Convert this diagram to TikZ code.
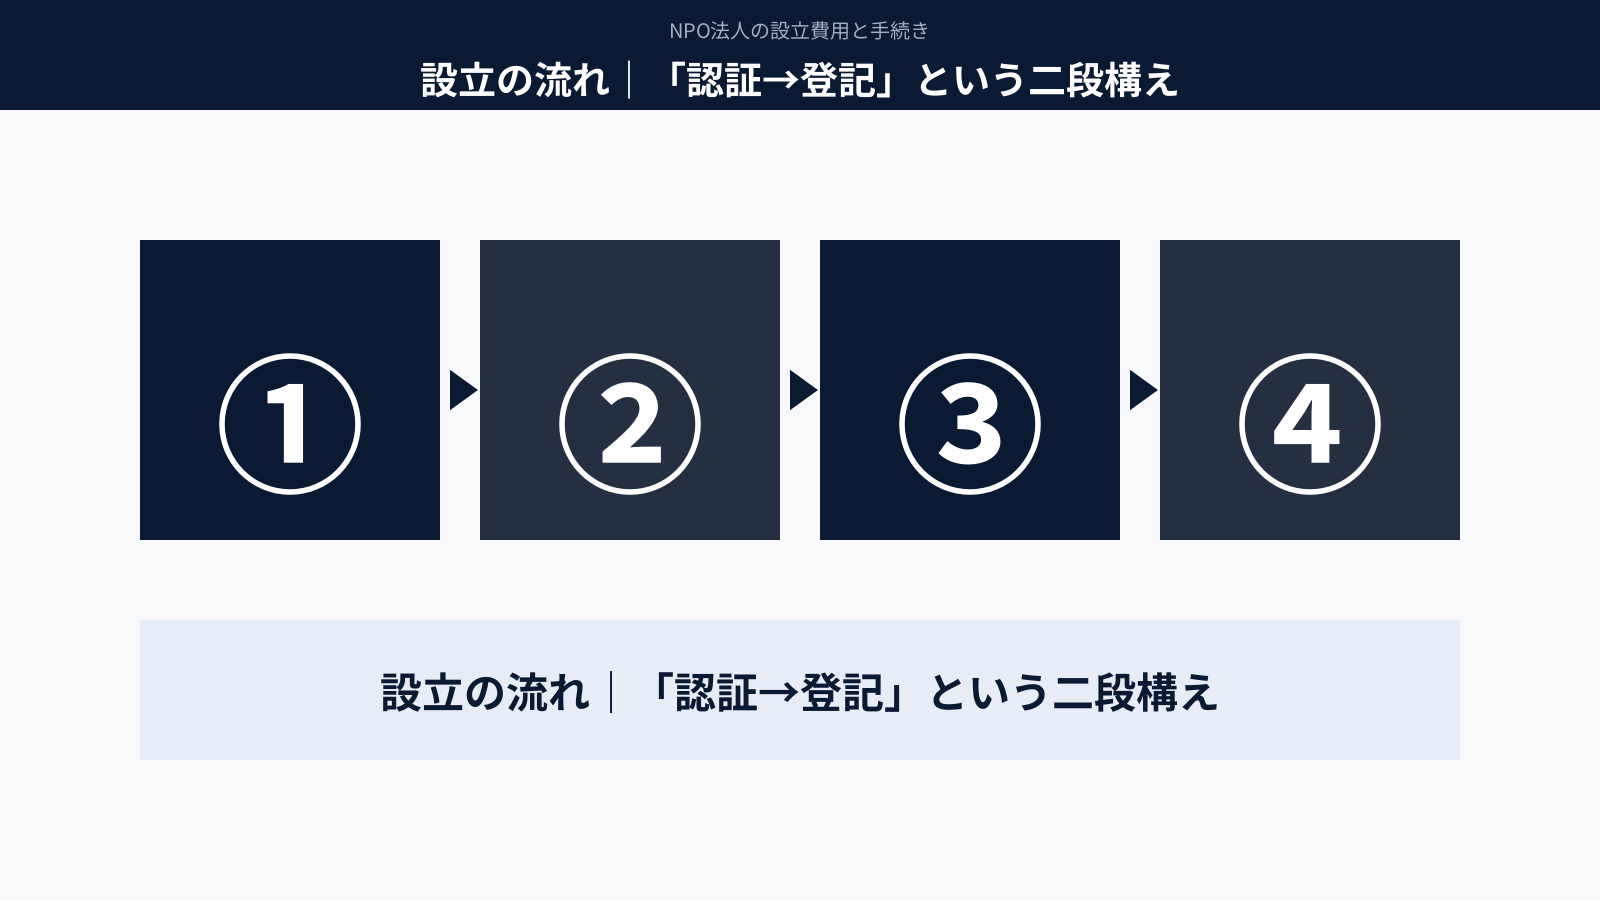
\documentclass[tikz,border=0pt]{standalone}
\usepackage{fontspec}
\setmainfont{Noto Sans CJK JP}
\newfontfamily\jpreg{Noto Sans CJK JP}
\newfontfamily\jpbold{Noto Sans CJK JP Bold}
\definecolor{navy}{HTML}{0B1A33}
\definecolor{slate}{HTML}{243042}
\definecolor{pagebg}{HTML}{F7F9FB}
\definecolor{bandbg}{HTML}{E6EDF7}
\definecolor{subgray}{HTML}{A3AEC0}
\tikzset{
  stepbox/.style={draw=none, minimum width=300pt, minimum height=300pt, inner sep=0pt},
  numtext/.style={text=white, font=\jpbold\fontsize{150}{150}\selectfont, inner sep=0pt},
  flowarrow/.style={fill=navy, draw=none},
}
\begin{document}
\begin{tikzpicture}[x=1pt,y=-1pt]
\useasboundingbox (0,0) rectangle (1600,900);
\fill[pagebg] (0,0) rectangle (1600,900);
\fill[navy] (0,0) rectangle (1600,110);
\node[text=subgray, font=\jpreg\fontsize{20}{20}\selectfont, inner sep=0pt] (sub) at (800,31) {NPO法人の設立費用と手続き};
\node[text=white, font=\jpbold\fontsize{38}{38}\selectfont, inner sep=0pt] (title) at (800,80) {設立の流れ｜「認証→登記」という二段構え};

\node[stepbox, fill=navy]  (s1) at (290,390) {};
\node[stepbox, fill=slate] (s2) at (630,390) {};
\node[stepbox, fill=navy]  (s3) at (970,390) {};
\node[stepbox, fill=slate] (s4) at (1310,390) {};

\node[numtext] (n1) at (290,424) {①};
\node[numtext] (n2) at (630,424) {②};
\node[numtext] (n3) at (970,424) {③};
\node[numtext] (n4) at (1310,424) {④};

\foreach \a/\b in {s1/s2,s2/s3,s3/s4}{
  \fill[flowarrow] ([xshift=10pt,yshift=20pt]\a.east) -- ([xshift=10pt,yshift=-20pt]\a.east) -- ([xshift=-2pt]\b.west) -- cycle;
}

\node[fill=bandbg, minimum width=1320pt, minimum height=140pt, inner sep=0pt] (band) at (800,690) {};
\node[text=navy, font=\jpbold\fontsize{42}{42}\selectfont, inner sep=0pt] (summary) at (800,693) {設立の流れ｜「認証→登記」という二段構え};
\end{tikzpicture}
\end{document}
